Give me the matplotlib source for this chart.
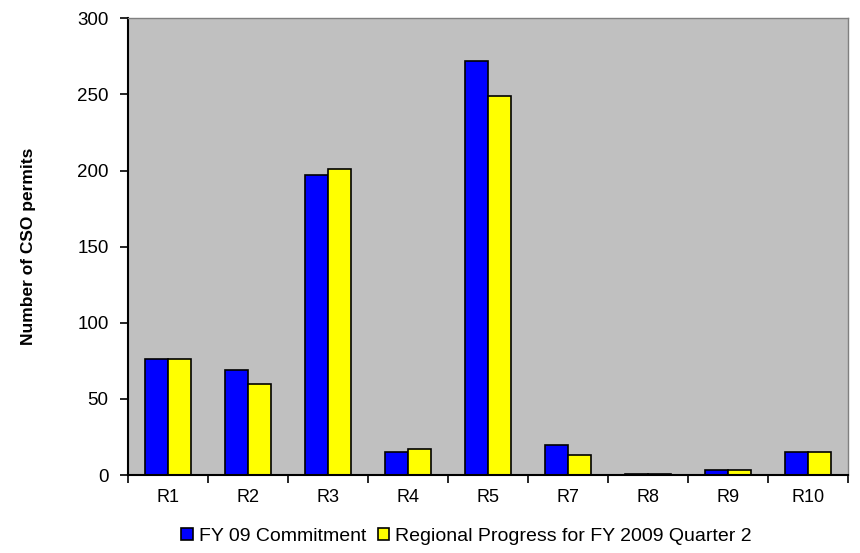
import numpy as np
import matplotlib
matplotlib.use('Agg')
import matplotlib.pyplot as plt

plt.rcParams['font.family'] = ['Liberation Sans', 'DejaVu Sans']

regions = ['R1', 'R2', 'R3', 'R4', 'R5', 'R7', 'R8', 'R9', 'R10']
commitment = [76, 69, 197, 15, 272, 20, 1, 3, 15]
progress = [76, 60, 201, 17, 249, 13, 1, 3, 15]
labels = ['FY 09 Commitment', 'Regional Progress for FY 2009 Quarter 2']

fig = plt.figure(figsize=(8.6, 5.53), dpi=100)
ax = fig.add_axes([0.149, 0.141, 0.837, 0.826])
ax.set_facecolor('#C0C0C0')

x = np.arange(len(regions))
w = 0.29
ax.bar(x - w/2, commitment, w, color='#0000FF', edgecolor='black', linewidth=1.2, label=labels[0])
ax.bar(x + w/2, progress, w, color='#FFFF00', edgecolor='black', linewidth=1.2, label=labels[1])

ax.set_xlim(-0.5, len(regions) - 0.5)
ax.set_ylim(0, 300)
ax.set_yticks(range(0, 301, 50))
ax.set_xticks(x)
ax.set_xticklabels(regions, fontsize=13)
ax.tick_params(axis='x', length=0, pad=10)
ax.set_xticks(np.arange(-0.5, len(regions), 1), minor=True)
ax.tick_params(axis='x', which='minor', length=6, width=1.2, direction='out')
ax.tick_params(axis='y', labelsize=13.5, length=6, width=1.2, direction='out', pad=8)

for s in ['left', 'bottom']:
    ax.spines[s].set_linewidth(1.5)
    ax.spines[s].set_color('black')
for s in ['top', 'right']:
    ax.spines[s].set_color('#808080')
    ax.spines[s].set_linewidth(1.0)

ax.set_ylabel('Number of CSO permits', fontsize=12.5, fontweight='bold', labelpad=30)

ax.legend(loc='center', bbox_to_anchor=(0.47, -0.134), ncol=2, frameon=False,
          fontsize=14, handlelength=0.6, handleheight=0.6, handletextpad=0.3,
          columnspacing=0.6, borderpad=0)

fig.savefig('out.png', dpi=100)
